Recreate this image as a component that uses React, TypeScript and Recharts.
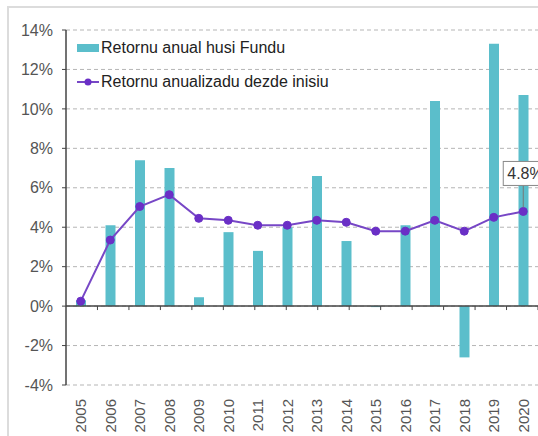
import { Bar, ComposedChart, CartesianGrid, LabelList, Line, ReferenceLine, XAxis, YAxis } from 'recharts'

const years = ['2005', '2006', '2007', '2008', '2009', '2010', '2011', '2012', '2013', '2014', '2015', '2016', '2017', '2018', '2019', '2020']
const annualReturn = [0.3, 4.1, 7.4, 7.0, 0.45, 3.75, 2.8, 4.0, 6.6, 3.3, -0.05, 4.1, 10.4, -2.6, 13.3, 10.7]
const sinceInception = [0.25, 3.35, 5.05, 5.65, 4.45, 4.35, 4.1, 4.1, 4.35, 4.25, 3.8, 3.8, 4.35, 3.8, 4.5, 4.8]
const yTicks = [-4, -2, 0, 2, 4, 6, 8, 10, 12, 14]
const boundaries = [1, 2, 3, 4, 5, 6, 7, 8, 9, 10, 11, 12, 13, 14, 15]

const BAR = '#5bbecb'
const LINE = '#7747c6'
const DOT = '#6a2fc6'
const FONT = 'Liberation Sans, Arial, sans-serif'

const data = years.map((year, i) => ({ year, annual: annualReturn[i], since: sinceInception[i] }))

function YearTick({ x, y, payload }: any) {
  return (
    <g transform={`translate(${x},${y + 6})`}>
      <text transform="rotate(-90)" textAnchor="end" dy="0.36em" fill="#555" fontSize={15} fontFamily={FONT}>
        {payload.value}
      </text>
    </g>
  )
}

function LastLabel({ x, y, index, value }: any) {
  if (index !== years.length - 1) return null
  return (
    <g>
      <line x1={x} y1={y - 4} x2={x} y2={y - 26} stroke="#777" strokeWidth={1} />
      <rect x={x - 20} y={y - 50} width={48} height={24} fill="#fff" stroke="#888" strokeWidth={1} />
      <text x={x - 16} y={y - 32} fill="#333" fontSize={16} fontFamily={FONT}>
        {`${value}%`}
      </text>
    </g>
  )
}

// legend sits inside the plot, so keep it out of recharts' layout
function LegendBox() {
  return (
    <div style={{ position: 'absolute', left: 77, top: 39, fontFamily: FONT, fontSize: 16, color: '#222', lineHeight: '18px' }}>
      <div style={{ display: 'flex', alignItems: 'center', height: 18 }}>
        <span style={{ display: 'inline-block', width: 22, height: 8, background: BAR, marginRight: 2 }} />
        Retornu anual husi Fundu
      </div>
      <div style={{ display: 'flex', alignItems: 'center', height: 18, marginTop: 16 }}>
        <svg width={22} height={10} style={{ marginRight: 2 }}>
          <line x1={0} y1={5} x2={22} y2={5} stroke={LINE} strokeWidth={2} />
          <circle cx={11} cy={5} r={3.5} fill={DOT} />
        </svg>
        Retornu anualizadu dezde inisiu
      </div>
    </div>
  )
}

export default function App() {
  return (
    <div style={{ position: 'absolute', left: 0, top: 0, width: 538, height: 436, overflow: 'hidden', background: '#fff', fontFamily: FONT }}>
      <div style={{ position: 'absolute', left: 7, top: 6, width: 560, height: 460, border: '2px solid #dcdcdc' }} />
      <ComposedChart width={538} height={436} data={data} margin={{ top: 30, right: 0, bottom: 0, left: 0 }}>
        <CartesianGrid vertical={false} stroke="#b5b5b5" strokeDasharray="4 3" />
        <XAxis
          dataKey="year"
          height={51}
          axisLine={false}
          tickLine={false}
          interval={0}
          tick={<YearTick />}
        />
        <XAxis xAxisId="n" type="number" domain={[0, 16]} hide />
        <YAxis
          width={66}
          domain={[-4, 14]}
          ticks={yTicks}
          interval={0}
          tickFormatter={(v) => `${v}%`}
          tick={{ fill: '#555', fontSize: 16, fontFamily: FONT }}
          axisLine={{ stroke: '#444', strokeWidth: 1.5 }}
          tickLine={{ stroke: '#444' }}
          tickSize={4}
          tickMargin={9}
        />
        <ReferenceLine y={0} stroke="#444" strokeWidth={1.5} />
        {boundaries.map((b) => (
          <ReferenceLine
            key={b}
            xAxisId="n"
            segment={[{ x: b, y: 0 }, { x: b, y: -0.2 }]}
            stroke="#444"
          />
        ))}
        <Bar dataKey="annual" fill={BAR} barSize={10} isAnimationActive={false} />
        <Line
          dataKey="since"
          stroke={LINE}
          strokeWidth={2}
          dot={{ r: 4, fill: DOT, stroke: DOT, strokeWidth: 1 }}
          activeDot={false}
          isAnimationActive={false}
        >
          <LabelList dataKey="since" content={<LastLabel />} />
        </Line>
      </ComposedChart>
      <LegendBox />
    </div>
  )
}
